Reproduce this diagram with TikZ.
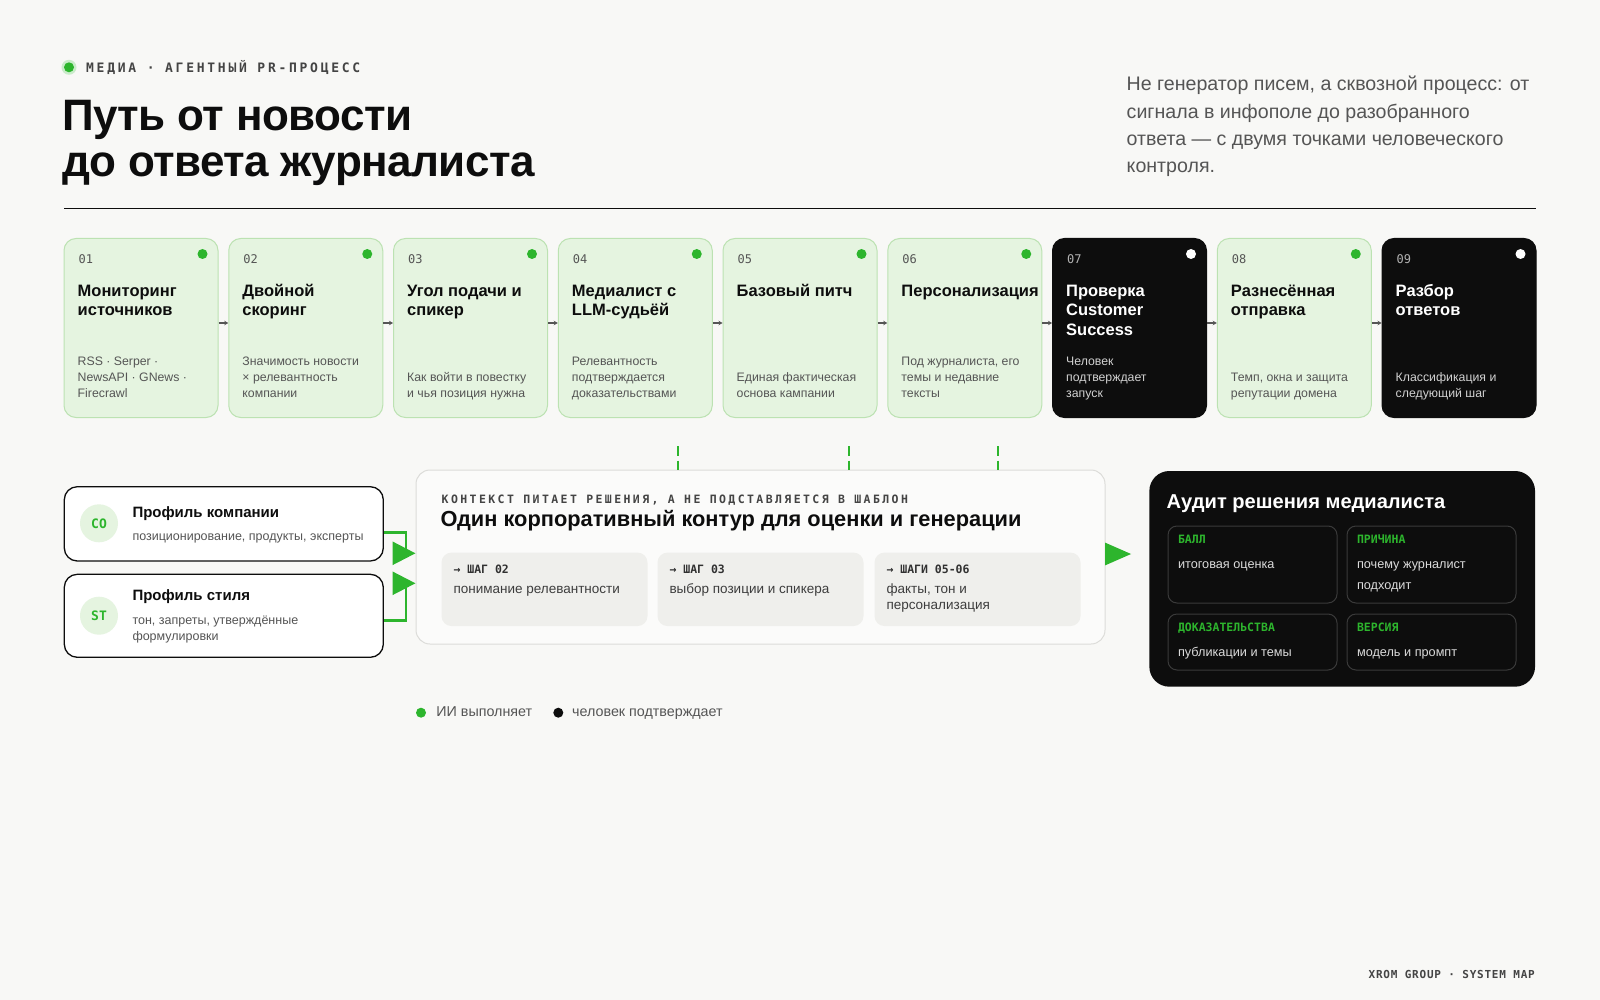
\documentclass[tikz,border=0pt]{standalone}
\usepackage{fontspec}
\setmainfont{Liberation Sans}
\newfontfamily\titlef{Liberation Sans}[LetterSpace=-1.2]
\newfontfamily\monof{DejaVu Sans Mono}
\newfontfamily\trackf{DejaVu Sans Mono}[LetterSpace=21]
\newfontfamily\footf{DejaVu Sans Mono}[LetterSpace=7]
\usetikzlibrary{arrows.meta,calc,positioning}

\definecolor{paper}{HTML}{F8F8F6}
\definecolor{leaf}{HTML}{2DB52D}
\definecolor{leaffill}{HTML}{E5F4E0}
\definecolor{leafline}{HTML}{BCE2B2}
\definecolor{ink}{HTML}{0D0D0D}
\definecolor{mute}{HTML}{555555}
\definecolor{kick}{HTML}{444444}
\definecolor{panel}{HTML}{EFEFEC}
\definecolor{panelline}{HTML}{DCDCD9}
\definecolor{cellline}{HTML}{3A3A3A}

\newcommand{\setfs}[2]{\fontsize{#1}{#2}\selectfont}

\begin{document}
\begin{tikzpicture}[x=1pt,y=-1pt,
    boxai/.style={draw=leafline, fill=leaffill, line width=1pt, rounded corners=12pt,
      minimum width=154pt, minimum height=179pt, inner sep=0pt},
    boxhu/.style={boxai, draw=ink, fill=ink},
    numai/.style={anchor=base west, inner sep=0pt, text=mute, font=\monof\setfs{12}{14}},
    numhu/.style={numai, text=white!70!black},
    ttlai/.style={anchor=north west, inner sep=0pt, align=left, text=ink,
      font=\bfseries\setfs{16.5}{19.5}},
    ttlhu/.style={ttlai, text=white},
    dscai/.style={anchor=south west, inner sep=0pt, align=left, text=mute,
      font=\setfs{12.3}{16}},
    dschu/.style={dscai, text=white!82!black},
    dotai/.style={circle, fill=leaf, minimum size=10pt, inner sep=0pt},
    dothu/.style={dotai, fill=white},
    steparrow/.style={-{Stealth[length=4pt,width=4.5pt]}, draw=mute, line width=1.1pt},
    feed/.style={-{Triangle[length=23pt,width=23pt]}, draw=leaf, line width=2.6pt},
    feedout/.style={-{Triangle[length=26pt,width=22pt]}, draw=leaf, line width=2.6pt,
      shorten >=18pt},
    tick/.style={draw=leaf, line width=2.4pt, dash pattern=on 10pt off 4.5pt},
    profile/.style={draw=ink, fill=white, line width=1.3pt, rounded corners=13pt,
      minimum width=319pt, inner sep=0pt},
    badge/.style={circle, fill=leaffill, minimum size=38pt, inner sep=0pt, text=leaf,
      font=\monof\bfseries\setfs{13}{15}},
    proftitle/.style={anchor=base west, inner sep=0pt, text=ink, font=\bfseries\setfs{15}{18}},
    profsub/.style={inner sep=0pt, align=left, text=mute, font=\setfs{12.5}{16}},
    ctxbox/.style={draw=panelline, fill=white!40!paper, line width=1pt, rounded corners=14pt,
      minimum width=689pt, minimum height=174pt, inner sep=0pt},
    slot/.style={fill=panel, rounded corners=10pt, minimum width=206pt,
      minimum height=73.5pt, inner sep=0pt},
    slotlabel/.style={anchor=base west, inner sep=0pt, text=ink!85,
      font=\monof\bfseries\setfs{11.5}{13}},
    slottext/.style={anchor=north west, inner sep=0pt, align=left, text=ink!80,
      font=\setfs{13.5}{15.5}},
    auditbox/.style={fill=ink, rounded corners=20pt, minimum width=385.7pt,
      minimum height=215.7pt, inner sep=0pt},
    cell/.style={draw=cellline, line width=1pt, rounded corners=9pt, minimum width=169pt,
      inner sep=0pt},
    celllabel/.style={anchor=base west, inner sep=0pt, text=leaf,
      font=\monof\bfseries\setfs{11.5}{13}},
    celltext/.style={anchor=north west, inner sep=0pt, align=left, text=white!86!black,
      font=\setfs{12.7}{20.6}},
    legendtext/.style={inner sep=0pt, text=mute, font=\setfs{14.3}{16},
      text height=10pt, text depth=3pt}
  ]
  % Canvas
  \fill[paper] (0,0) rectangle (1600,1000);
  \useasboundingbox (0,0) rectangle (1600,1000);

  % Header
  \fill[leaf!25] (69,67.3) circle (7.5);
  \node (kdot) [circle, fill=leaf, minimum size=10pt, inner sep=0pt] at (69,67.3) {};
  \node (kicker) [anchor=base west, inner sep=0pt, text=kick, font=\trackf\bfseries\setfs{13}{15}]
    at (86,72.3) {МЕДИА · АГЕНТНЫЙ PR-ПРОЦЕСС};
  \node (title) [anchor=north west, inner sep=0pt, align=left, text=ink,
    font=\titlef\bfseries\setfs{44}{46}] at (62,97.8)
    {\strut Путь от новости\\до ответа журналиста};
  \node (lead) [anchor=north west, inner sep=0pt, align=left, text=mute,
    font=\setfs{19.6}{27.2}] at (1126.5,71.7)
    {\strut Не генератор писем, а сквозной процесс: от\\сигнала в инфополе до разобранного\\ответа — с двумя точками человеческого\\контроля.};
  \draw[ink, line width=1pt] (64,209) -- (1536,209);

  % Steps
  \foreach \i/\nr/\ttl/\dsc/\kind in {
      1/01/{Мониторинг\\источников}/{RSS · Serper ·\\NewsAPI · GNews ·\\Firecrawl}/ai,
      2/02/{Двойной\\скоринг}/{Значимость новости\\× релевантность\\компании}/ai,
      3/03/{Угол подачи и\\спикер}/{Как войти в повестку\\и чья позиция нужна}/ai,
      4/04/{Медиалист с\\LLM-судьёй}/{Релевантность\\подтверждается\\доказательствами}/ai,
      5/05/{Базовый питч}/{Единая фактическая\\основа кампании}/ai,
      6/06/{Персонализация}/{Под журналиста, его\\темы и недавние\\тексты}/ai,
      7/07/{Проверка\\Customer\\Success}/{Человек\\подтверждает\\запуск}/hu,
      8/08/{Разнесённая\\отправка}/{Темп, окна и защита\\репутации домена}/ai,
      9/09/{Разбор\\ответов}/{Классификация и\\следующий шаг}/hu}{
    \node (c\i) [box\kind] at ({141+(\i-1)*164.75},328) {};
    \node (n\i) [num\kind] at ($(c\i.north west)+(15,26)$) {\nr};
    \node (d\i) [dot\kind] at ($(c\i.north east)+(-16,16)$) {};
    \node (t\i) [ttl\kind] at ($(c\i.north west)+(14,44.5)$) {\strut\ttl};
    \node (s\i) [dsc\kind] at ($(c\i.south west)+(14,-16)$) {\dsc\strut};
  }
  \foreach \i [evaluate=\i as \j using int(\i+1)] in {1,...,8}
    \draw[steparrow] ([yshift=5pt]c\i.east) -- ([yshift=5pt]c\j.west);

  % Profiles
  \node (prof1) [profile, minimum height=74.3pt] at (223.8,523.85) {};
  \node (co) [badge] at (99,523.3) {CO};
  \node (prof1t) [proftitle] at (132.3,517.3) {Профиль компании};
  \node (prof1s) [profsub, anchor=base west] at (132.3,540) {позиционирование, продукты, эксперты};
  \node (prof2) [profile, minimum height=83pt] at (223.8,615.8) {};
  \node (st) [badge] at (99,615.7) {ST};
  \node (prof2t) [proftitle] at (132.3,600.7) {Профиль стиля};
  \node (prof2s) [profsub, anchor=north west] at (132.3,612.8)
    {\strut тон, запреты, утверждённые\\формулировки};

  % Context
  \node (ctx) [ctxbox] at (760.5,557) {};
  \node (ctxkick) [anchor=base west, inner sep=0pt, text=kick,
    font=\trackf\bfseries\setfs{11.5}{13}] at (441.5,503)
    {КОНТЕКСТ ПИТАЕТ РЕШЕНИЯ, А НЕ ПОДСТАВЛЯЕТСЯ В ШАБЛОН};
  \node (ctxtitle) [anchor=base west, inner sep=0pt, text=ink,
    font=\bfseries\setfs{21.8}{24}] at (440.5,526)
    {Один корпоративный контур для оценки и генерации};
  \foreach \k/\x/\lbl/\txt in {
      1/544.5/{→ ШАГ 02}/{понимание релевантности},
      2/760.5/{→ ШАГ 03}/{выбор позиции и спикера},
      3/977.5/{→ ШАГИ 05-06}/{факты, тон и\\персонализация}}{
    \node (sl\k) [slot] at (\x,589.3) {};
    \node (sl\k l) [slotlabel] at ($(sl\k.north west)+(12,21.5)$) {\lbl};
    \node (sl\k t) [slottext] at ($(sl\k.north west)+(12,30.5)$) {\strut\txt};
  }
  \foreach \k/\x in {1/678,2/849,3/998}{
    \coordinate (tick\k) at (\x,446);
    \draw[tick] (tick\k) -- (tick\k |- ctx.north);
  }

  % Audit
  \node (audit) [auditbox] at (1342.2,578.85) {};
  \node (audittitle) [anchor=base west, inner sep=0pt, text=white,
    font=\bfseries\setfs{20.1}{22}] at (1166.5,508.3) {Аудит решения медиалиста};
  \foreach \k/\x/\y/\h/\lbl/\txt in {
      1/1252.5/564.5/77pt/БАЛЛ/{итоговая оценка},
      2/1431.5/564.5/77pt/ПРИЧИНА/{почему журналист\\подходит},
      3/1252.5/642/56pt/ДОКАЗАТЕЛЬСТВА/{публикации и темы},
      4/1431.5/642/56pt/ВЕРСИЯ/{модель и промпт}}{
    \node (cell\k) [cell, minimum height=\h] at (\x,\y) {};
    \node (cell\k l) [celllabel] at ($(cell\k.north west)+(10.3,18)$) {\lbl};
    \node (cell\k t) [celltext] at ($(cell\k.north west)+(10.3,28.3)$) {\strut\txt};
  }

  % Edges
  \draw[feed] (prof1.east |- 0,532.7) -| (406,553.3) -- (ctx.west |- 0,553.3);
  \draw[feed] (prof2.east |- 0,620.7) -| (406,583.3) -- (ctx.west |- 0,583.3);
  \draw[feedout] (ctx.east |- 0,554) -- (audit.west |- 0,554);

  % Legend
  \node (lgai) [circle, fill=leaf, minimum size=10pt, inner sep=0pt] at (421,712.7) {};
  \node (lgaitext) [legendtext, right=10pt of lgai] {ИИ выполняет};
  \node (lghu) [circle, fill=ink, minimum size=10pt, inner sep=0pt] at (558.3,712.7) {};
  \node (lghutext) [legendtext, right=8.5pt of lghu] {человек подтверждает};

  % Footer
  \node (foot) [anchor=base east, inner sep=0pt, text=kick, font=\footf\bfseries\setfs{11}{13}]
    at (1535,978) {XROM GROUP · SYSTEM MAP};
\end{tikzpicture}
\end{document}
